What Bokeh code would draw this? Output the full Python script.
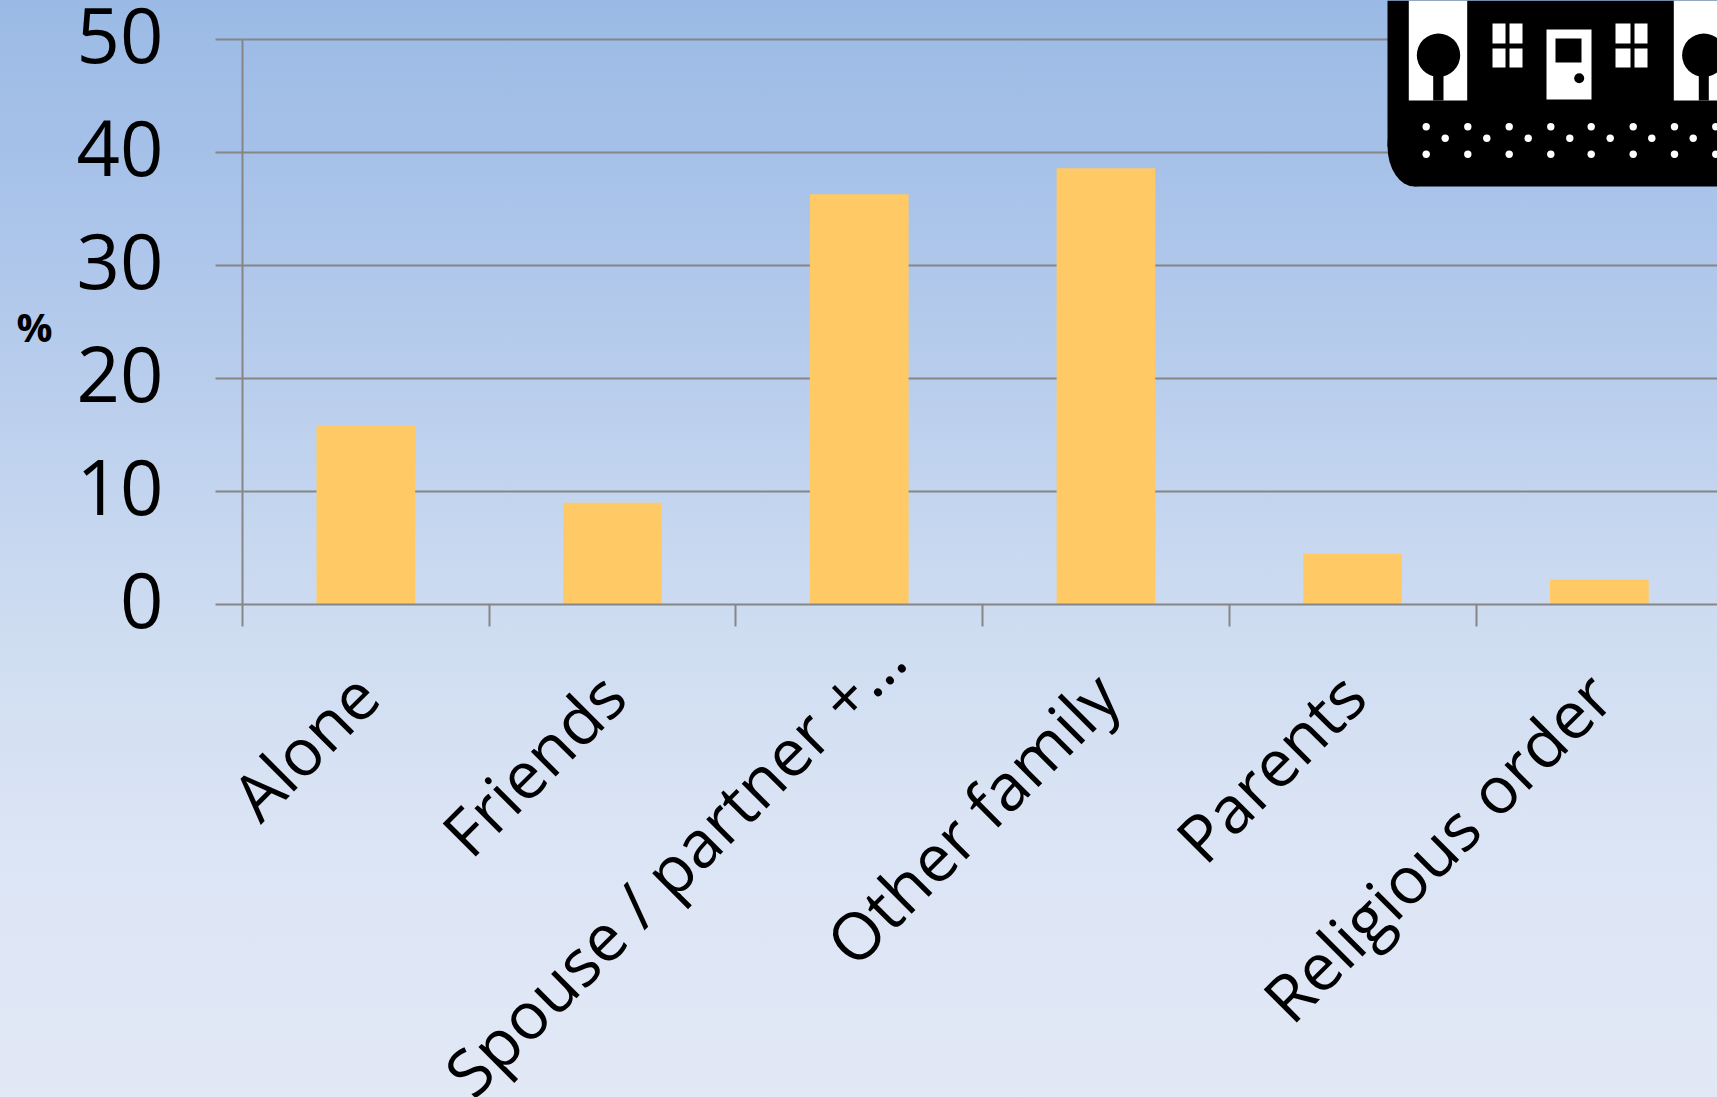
import math

from bokeh.core.properties import value
from bokeh.embed import file_html
from bokeh.models import FixedTicker, LinearAxis, Range1d
from bokeh.plotting import figure
from bokeh.resources import INLINE

categories = ["Alone", "Friends", "Spouse / partner +…", "Other family", "Parents", "Religious order"]
percent = [15.8, 9.0, 36.3, 38.6, 4.5, 2.2]
y_ticks = [0, 10, 20, 30, 40, 50]
name_shift_x = [0, 0, 33, 0, 0, 0]    # nudge of each slanted name, in pixels
name_shift_y = [0, 0, -37, 0, 0, 0]

GREY = "#868686"
BAR = "#FFCA65"
FONT = "Open Sans"

WIDTH, HEIGHT = 1717, 1097
LEFT, BASE = 242, 604           # pixel position of the plot origin
X_STEP = 246.7                  # pixels per category
Y_STEP = 11.3                   # pixels per percentage point
X_END = (WIDTH - LEFT) / X_STEP

p = figure(
    width=WIDTH, height=HEIGHT, output_backend="svg", toolbar_location=None,
    x_range=Range1d(-LEFT / X_STEP, X_END),
    y_range=Range1d((BASE - HEIGHT) / Y_STEP, BASE / Y_STEP),
    x_axis_type=None, y_axis_type=None,
    min_border=0,
    background_fill_alpha=0, border_fill_alpha=0, outline_line_color=None,
)
p.styles = {"background": "linear-gradient(180deg, #9ABAE5 0%, #ABC4EA 20%, #CFDDF1 58%, #DCE5F5 78%, #E2E8F5 100%)"}

# Both axes are pinned to the origin inside the frame, so the frame fills the page
y_axis = LinearAxis(
    ticker=FixedTicker(ticks=y_ticks), bounds=(0, 50), fixed_location=0,
    major_label_overrides={t: "" for t in y_ticks},
    axis_line_color=GREY, axis_line_width=2,
    major_tick_line_color=GREY, major_tick_line_width=2,
    major_tick_in=0, major_tick_out=27, minor_tick_line_color=None,
)
p.add_layout(y_axis, "left")

# Category boundaries carry the ticks; the names are set on the centres below
x_ticks = list(range(len(categories)))
centres = [i + 0.5 for i in x_ticks]
tick_axis = LinearAxis(
    ticker=FixedTicker(ticks=x_ticks), bounds=(0, X_END), fixed_location=0,
    major_label_overrides={t: "" for t in x_ticks},
    axis_line_color=GREY, axis_line_width=2,
    major_tick_line_color=GREY, major_tick_line_width=2,
    major_tick_in=0, major_tick_out=22, minor_tick_line_color=None,
    major_label_standoff=0,
)
p.add_layout(tick_axis, "below")

p.segment(x0=[0] * 5, x1=[X_END] * 5, y0=y_ticks[1:], y1=y_ticks[1:],
          line_color=GREY, line_width=2)
p.vbar(x=centres, top=percent, bottom=0, width=0.4, fill_color=BAR, line_color=None)

# Value labels, lifted a little so the digits centre on their grid lines
p.text(x=[0] * 6, y=y_ticks, text=[str(t) for t in y_ticks], x_offset=-79, y_offset=-5,
       text_align="right", text_baseline="middle",
       text_font=value(FONT), text_font_size="76px", text_color="black")

# Slanted category names, ending close to each category centre
p.text(x=centres, y=[-7] * 6, text=categories, x_offset=name_shift_x, y_offset=name_shift_y,
       angle=math.radians(45), text_align="right", text_baseline="middle",
       text_font=value(FONT), text_font_size="65.5px", text_color="black")

# House emblem and the unit mark use a pixel-scaled overlay
p.extra_x_ranges["px"] = Range1d(0, WIDTH)
p.extra_y_ranges["px"] = Range1d(HEIGHT, 0)
px = dict(x_range_name="px", y_range_name="px")

p.text(x=[34], y=[326], text=["%"], text_align="center", text_baseline="middle",
       text_font=value(FONT), text_font_style="bold", text_font_size="40px", text_color="black", **px)

p.quad(left=[1387, 1414], right=[1717, 1717], top=[0, 100], bottom=[146, 186], fill_color="black", line_color=None, **px)
p.ellipse(x=[1414], y=[146], width=[54], height=[80], fill_color="black", line_color=None, **px)

# white panels, window panes, door
wl = [1408.3, 1673.3, 1492, 1509, 1492, 1509, 1615, 1634, 1615, 1634, 1546]
wr = [1466.7, 1717, 1505, 1522, 1505, 1522, 1630, 1647, 1630, 1647, 1591]
wt = [0, 0, 23, 23, 48, 48, 23, 23, 48, 48, 29]
wb = [100, 100, 43, 43, 67, 67, 43, 43, 67, 67, 99]
p.quad(left=wl, right=wr, top=wt, bottom=wb, fill_color="white", line_color=None, **px)

# trees and door details
p.circle(x=[1438, 1703.3], y=[54.7, 54.7], radius=21.7, fill_color="black", line_color=None, **px)
p.quad(left=[1432.7, 1698.3, 1555], right=[1443, 1708.3, 1581], top=[70, 70, 38], bottom=[100, 100, 62],
       fill_color="black", line_color=None, **px)
p.circle(x=[1578.7], y=[77.7], radius=5, fill_color="black", line_color=None, **px)

# dotted path
outer_x = [1425.7, 1467.3, 1508.7, 1550.3, 1590.7, 1632.7, 1674, 1715.3]
inner_x = [1444.7, 1486.3, 1527.7, 1569.3, 1609.7, 1651.3, 1692.7]
dots_x = outer_x + outer_x + inner_x
dots_y = [126.3] * 8 + [153.7] * 8 + [137.7] * 7
p.circle(x=dots_x, y=dots_y, radius=3.7, fill_color="white", line_color=None, **px)

open("out.html", "w").write(file_html(p, INLINE))
